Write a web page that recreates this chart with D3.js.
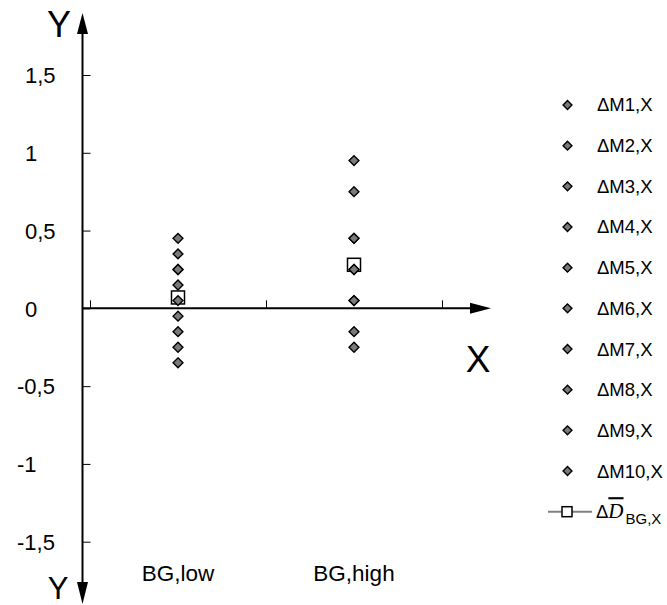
<!DOCTYPE html>
<html>
<head>
<meta charset="utf-8">
<script src="https://cdn.jsdelivr.net/npm/d3@7"></script>
<style>
  body { margin: 0; background: #fff; }
  text { font-family: Arial, "Liberation Sans", sans-serif; fill: #000; }
</style>
</head>
<body>
<div id="chart"></div>
<script>
// categories on the x axis
var categories = ["BG,low", "BG,high"];
// series names for the legend
var seriesNames = ["ΔM1,X", "ΔM2,X", "ΔM3,X", "ΔM4,X", "ΔM5,X", "ΔM6,X", "ΔM7,X", "ΔM8,X", "ΔM9,X", "ΔM10,X"];
// values for each series, one per category (low, high)
var lowValues  = [0.45, 0.35, 0.25, 0.15, 0.05, -0.05, -0.15, -0.25, -0.35, 0.25];
var highValues = [0.95, 0.75, 0.45, 0.25, 0.05, -0.15, -0.25, 0.45, 0.25, 0.05];
// mean values (square markers)
var meanValues = [0.07, 0.28];
// y tick values
var yTicks = [1.5, 1, 0.5, 0, -0.5, -1, -1.5];

var width = 667, height = 605;
var axisX = 82.5;   // where the y axis sits

var svg = d3.select("#chart").append("svg")
    .attr("width", width)
    .attr("height", height);

// scales
var y = d3.scaleLinear()
    .domain([-1.5, 1.5])
    .range([541.7, 75]);

var x = d3.scaleBand()
    .domain(categories)
    .range([90, 442]);

// boundaries between categories, for the x tick marks
var xEdge = d3.scaleLinear()
    .domain([0, categories.length])
    .range([90, 442]);

var fmt = function(d) { return String(d).replace(".", ","); };

// y ticks (marks to the right of the axis, labels on the left)
var yAxis = d3.axisRight(y)
    .tickValues(yTicks)
    .tickSize(8)
    .tickSizeOuter(0)
    .tickFormat(fmt);

var gy = svg.append("g")
    .attr("transform", "translate(" + axisX + ",0)")
    .call(yAxis);
gy.select(".domain").remove();
gy.selectAll(".tick line").attr("stroke", "#000");
gy.selectAll(".tick text")
    .attr("text-anchor", "start")
    .attr("x", function(d) { return d < 0 ? -65.5 : -57.5; })
    .attr("dy", "0.35em")
    .style("font-size", "22px")
    .style("font-family", "Arial, 'Liberation Sans', sans-serif");

// x tick marks (upwards from the axis)
var xAxis = d3.axisTop(xEdge)
    .tickValues(d3.range(0, categories.length + 1))
    .tickSize(8)
    .tickSizeOuter(0)
    .tickFormat("");

var gx = svg.append("g")
    .attr("transform", "translate(0," + y(0) + ")")
    .call(xAxis);
gx.select(".domain").remove();
gx.selectAll(".tick line").attr("stroke", "#000");

// axis lines with arrows
svg.append("line")
    .attr("x1", axisX).attr("x2", axisX)
    .attr("y1", 30).attr("y2", 585)
    .attr("stroke", "#000").attr("stroke-width", 2);

svg.append("line")
    .attr("x1", axisX).attr("x2", 474)
    .attr("y1", y(0)).attr("y2", y(0))
    .attr("stroke", "#000").attr("stroke-width", 2);

// arrow heads
svg.append("path")
    .attr("d", "M" + axisX + ",13 L" + (axisX - 5.5) + ",34 L" + (axisX + 5.5) + ",34 Z")
    .attr("fill", "#000");
svg.append("path")
    .attr("d", "M" + axisX + ",604 L" + (axisX - 5.5) + ",582 L" + (axisX + 5.5) + ",582 Z")
    .attr("fill", "#000");
svg.append("path")
    .attr("d", "M491," + y(0) + " L470," + (y(0) - 5.5) + " L470," + (y(0) + 5.5) + " Z")
    .attr("fill", "#000");

// axis letters
svg.append("text").attr("x", 59).attr("y", 37)
    .attr("text-anchor", "middle")
    .style("font-size", "36px").text("Y");
svg.append("text").attr("x", 58).attr("y", 599)
    .attr("text-anchor", "middle")
    .style("font-size", "31px").text("Y");
svg.append("text").attr("x", 478).attr("y", 372)
    .attr("text-anchor", "middle")
    .style("font-size", "37px").text("X");

// category labels at the bottom
svg.selectAll(".cat")
    .data(categories)
    .enter().append("text")
    .attr("class", "cat")
    .attr("x", function(d) { return x(d) + x.bandwidth() / 2; })
    .attr("y", 581)
    .attr("text-anchor", "middle")
    .style("font-size", "22.5px")
    .text(function(d) { return d; });

// mean squares (drawn under the diamonds)
var sq = 13;
svg.selectAll(".mean")
    .data(meanValues)
    .enter().append("rect")
    .attr("class", "mean")
    .attr("x", function(d, i) { return x(categories[i]) + x.bandwidth() / 2 - sq / 2; })
    .attr("y", function(d) { return y(d) - sq / 2; })
    .attr("width", sq).attr("height", sq)
    .attr("fill", "#fff")
    .attr("stroke", "#000")
    .attr("stroke-width", 1.5);

// diamond points
var diamond = d3.symbol().type(d3.symbolDiamond2).size(62);
var points = [];
seriesNames.forEach(function(name, i) {
    points.push({cat: categories[0], v: lowValues[i]});
    points.push({cat: categories[1], v: highValues[i]});
});

svg.selectAll(".pt")
    .data(points)
    .enter().append("path")
    .attr("class", "pt")
    .attr("d", diamond)
    .attr("transform", function(d) {
        return "translate(" + (x(d.cat) + x.bandwidth() / 2) + "," + y(d.v) + ")";
    })
    .attr("fill", "#7a7a7a")
    .attr("stroke", "#000")
    .attr("stroke-width", 1.4);

// legend
var legY = d3.scaleLinear()
    .domain([0, seriesNames.length])
    .range([105, 511.7]);

var legend = svg.selectAll(".legend")
    .data(seriesNames)
    .enter().append("g")
    .attr("class", "legend")
    .attr("transform", function(d, i) { return "translate(0," + legY(i) + ")"; });

legend.append("path")
    .attr("d", d3.symbol().type(d3.symbolDiamond2).size(50))
    .attr("transform", "translate(567.5,0)")
    .attr("fill", "#7a7a7a")
    .attr("stroke", "#000")
    .attr("stroke-width", 1.4);

legend.append("text")
    .attr("x", 597)
    .attr("dy", "0.35em")
    .style("font-size", "18.5px")
    .text(function(d) { return d; });

// legend entry for the mean
var lm = svg.append("g")
    .attr("transform", "translate(0," + legY(seriesNames.length) + ")");
lm.append("line")
    .attr("x1", 548).attr("x2", 592)
    .attr("stroke", "#808080").attr("stroke-width", 2);
lm.append("rect")
    .attr("x", 562).attr("y", -5)
    .attr("width", 10).attr("height", 10)
    .attr("fill", "#fff").attr("stroke", "#000").attr("stroke-width", 1.5);
var lt = lm.append("text")
    .attr("x", 596)
    .attr("dy", "0.35em")
    .style("font-size", "18.5px");
lt.append("tspan").text("Δ");
lt.append("tspan")
    .style("font-family", "'Liberation Serif', 'DejaVu Serif', serif")
    .style("font-style", "italic")
    .style("font-size", "21px")
    .style("text-decoration", "overline")
    .text("D");
lt.append("tspan")
    .attr("dx", 2)
    .attr("dy", 6)
    .style("font-size", "15px")
    .text("BG,X");
</script>
</body>
</html>
